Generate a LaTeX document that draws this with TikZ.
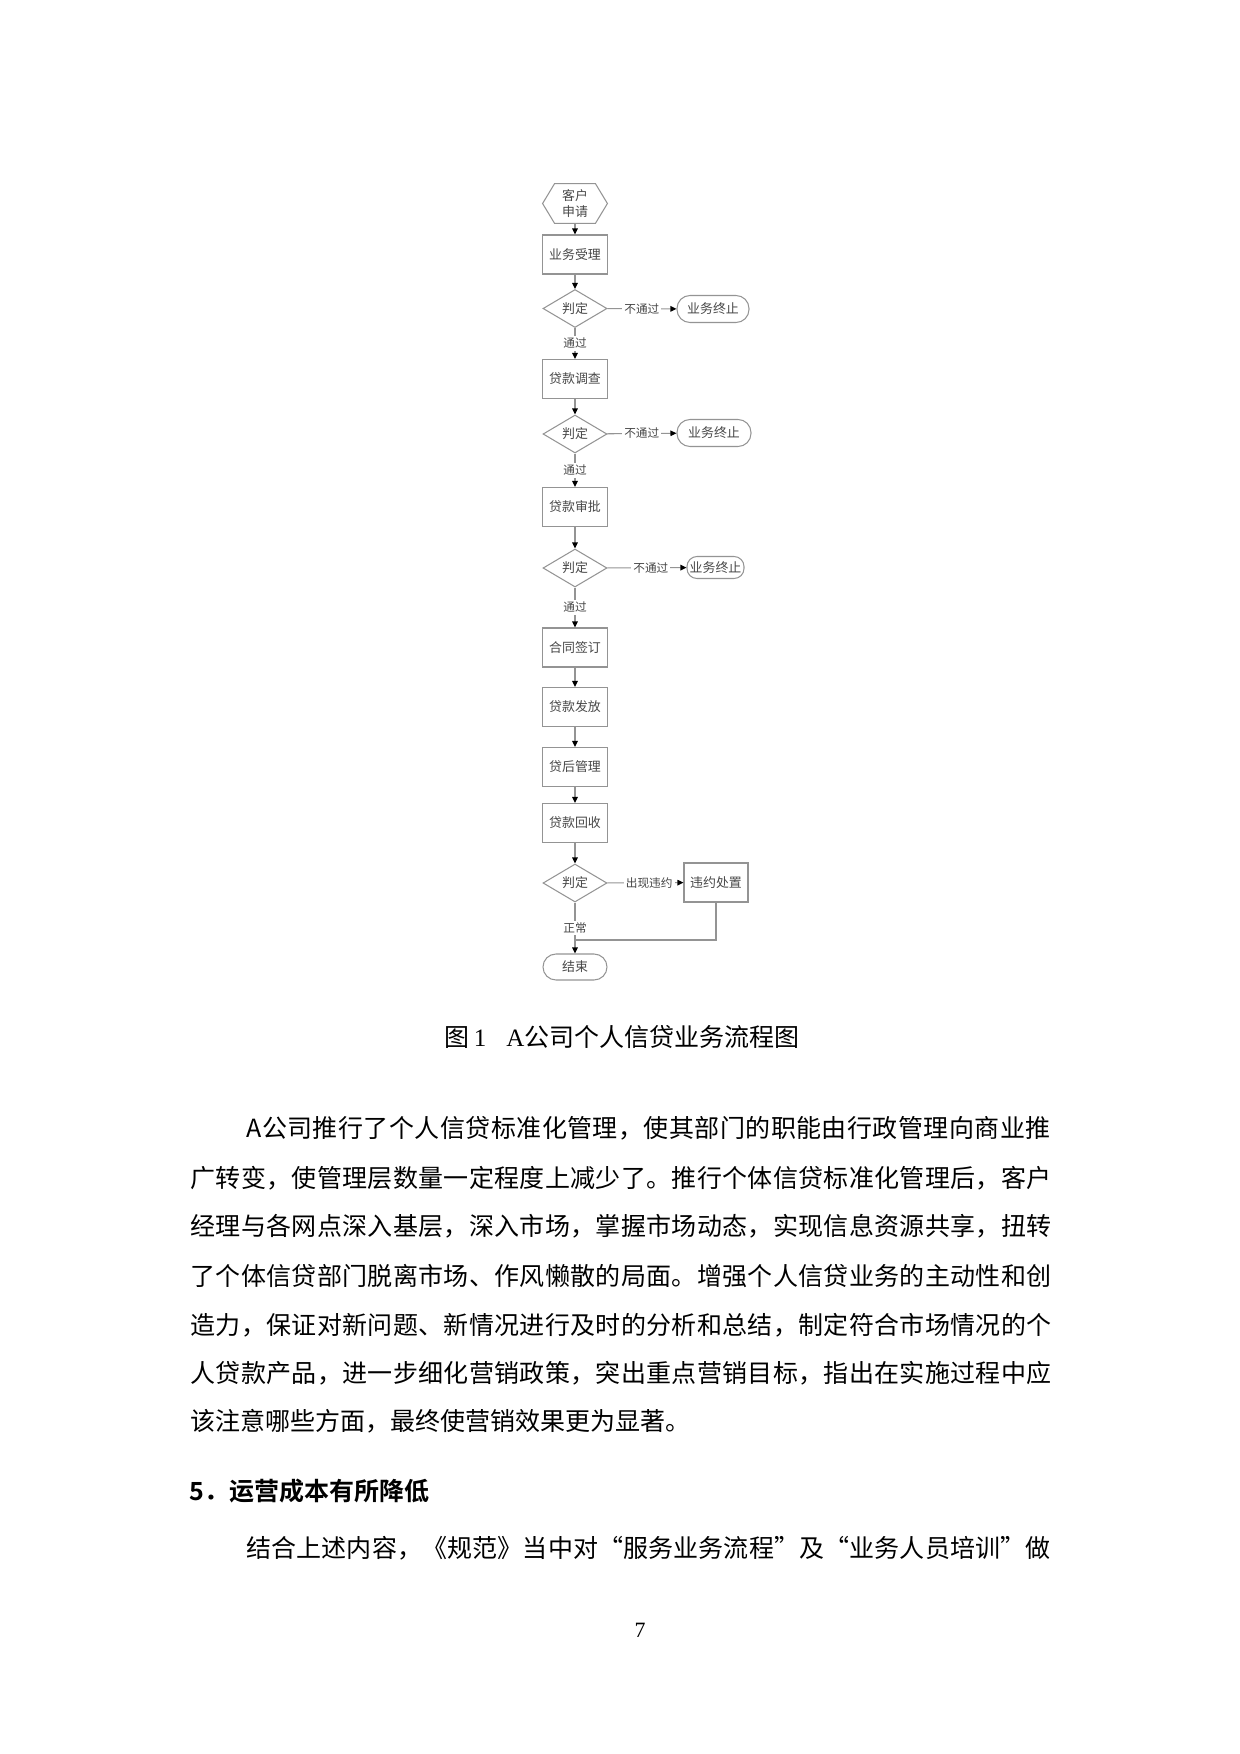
\documentclass[tikz,border=0pt]{standalone}
\usepackage{fontspec}
\setmainfont{Liberation Serif}
\newfontfamily\cjk{Noto Sans CJK SC}
\newfontfamily\cjkb{Noto Sans CJK SC Bold}
\usetikzlibrary{shapes.geometric,arrows.meta}
\def\px{0.48pt}
\def\jloop#1{\ifx\relax#1\else#1\hfil\expandafter\jloop\fi}
\def\jline#1#2{\hbox to #1{\jloop#2\relax\unskip}}
\tikzset{
  fc/.style={draw=black!42, line width=0.5pt, inner sep=0pt, text=black!72,
    font=\cjk\fontsize{6.2pt}{7pt}\selectfont},
  procbox/.style={fc, rectangle, minimum width=65*\px, minimum height=39*\px},
  decide/.style={fc, diamond, aspect=1.7, minimum width=64*\px, minimum height=38*\px},
  termin/.style={fc, rectangle, rounded corners=13*\px, minimum height=27*\px},
  hexa/.style={inner sep=0pt, text=black!72, font=\cjk\fontsize{6.2pt}{7.6pt}\selectfont,
    minimum width=64*\px, minimum height=39*\px, align=center},
  lbl/.style={fill=white, inner sep=1pt, text=black!72,
    font=\cjk\fontsize{5.6pt}{6.5pt}\selectfont},
  conn/.style={draw=black!42, line width=0.5pt},
  arr/.style={conn, -{Triangle[length=6*\px, width=5.5*\px, fill=black, color=black]}},
  body/.style={inner sep=0pt, anchor=west, font=\cjk\fontsize{12pt}{14pt}\selectfont,
    text height=0.88em, text depth=0.12em}
}
\begin{document}
\begin{tikzpicture}[x=\px, y=-\px]
\fill[white] (0,0) rectangle (1240,1754);
\useasboundingbox (0,0) rectangle (1240,1754);

% flowchart
\node[hexa] (s) at (575,203.5) {客户\\申请};
\draw[conn] (s.west) -- ([xshift=12*\px]s.north west) -- ([xshift=-12*\px]s.north east)
  -- (s.east) -- ([xshift=-12*\px]s.south east) -- ([xshift=12*\px]s.south west) -- cycle;

\node[procbox] (b1) at (575,254.5) {业务受理};
\node[decide] (d1) at (575,308.5) {判定};
\node[termin, minimum width=72*\px] (t1) at (713,309) {业务终止};
\node[procbox] (b2) at (575,379) {贷款调查};
\node[decide] (d2) at (575,434) {判定};
\node[termin, minimum width=74*\px] (t2) at (714,433) {业务终止};
\node[procbox] (b3) at (575,507) {贷款审批};
\node[decide] (d3) at (575,568) {判定};
\node[termin, minimum width=57*\px, minimum height=22*\px, rounded corners=10*\px] (t3) at (715.5,567.5) {业务终止};
\node[procbox] (b4) at (575,647.5) {合同签订};
\node[procbox] (b5) at (575,707) {贷款发放};
\node[procbox] (b6) at (575,767) {贷后管理};
\node[procbox] (b7) at (575,823) {贷款回收};
\node[decide] (d4) at (575,883) {判定};
\node[procbox, minimum width=64*\px] (b8) at (716,882.5) {违约处置};
\node[termin, minimum width=64*\px, minimum height=26*\px] (e) at (575,967) {结束};
\coordinate (j) at (575,940);

\draw[arr] (s) -- (b1);
\draw[arr] (b1) -- (d1);
\draw[arr] (d1) -- node[lbl]{不通过} (t1);
\draw[arr] (d1) -- node[lbl, pos=0.5]{通过} (b2);
\draw[arr] (b2) -- (d2);
\draw[arr] (d2) -- node[lbl]{不通过} (t2);
\draw[arr] (d2) -- node[lbl]{通过} (b3);
\draw[arr] (b3) -- (d3);
\draw[arr] (d3) -- node[lbl, pos=0.55]{不通过} (t3);
\draw[arr] (d3) -- node[lbl]{通过} (b4);
\draw[arr] (b4) -- (b5);
\draw[arr] (b5) -- (b6);
\draw[arr] (b6) -- (b7);
\draw[arr] (b7) -- (d4);
\draw[arr] (d4) -- node[lbl, pos=0.55]{出现违约} (b8);
\draw[arr] (d4) -- node[lbl, pos=0.5]{正常} (e);
\draw[conn] (b8.south) |- (j);

% caption
\node[inner sep=0pt, font=\fontsize{12pt}{14pt}\selectfont] (cap) at (622,1037)
  {{\cjk 图}\,1\hspace{0.8em}A{\cjk 公司个人信贷业务流程图}};

% body text
\node[body] (l1) at (246,1130) {\jline{386pt}{A公司推行了个人信贷标准化管理，使其部门的职能由行政管理向商业推}};
\node[body] (l2) at (190,1180) {\jline{413.3pt}{广转变，使管理层数量一定程度上减少了。推行个体信贷标准化管理后，客户}};
\node[body] (l3) at (190,1228) {\jline{413.3pt}{经理与各网点深入基层，深入市场，掌握市场动态，实现信息资源共享，扭转}};
\node[body] (l4) at (190,1278) {\jline{413.3pt}{了个体信贷部门脱离市场、作风懒散的局面。增强个人信贷业务的主动性和创}};
\node[body] (l5) at (190,1327) {\jline{413.3pt}{造力，保证对新问题、新情况进行及时的分析和总结，制定符合市场情况的个}};
\node[body] (l6) at (190,1375) {\jline{413.3pt}{人贷款产品，进一步细化营销政策，突出重点营销目标，指出在实施过程中应}};
\node[body] (l7) at (190,1423) {该注意哪些方面，最终使营销效果更为显著。};
\node[body, font=\cjkb\fontsize{12pt}{14pt}\selectfont] (h5) at (189,1493) {5．运营成本有所降低};
\node[body] (l8) at (246,1550) {\jline{386pt}{结合上述内容，《规范》当中对“服务业务流程”及“业务人员培训”做}};

% page number
\node[inner sep=0pt, font=\fontsize{10.5pt}{12pt}\selectfont] (pg) at (640,1630) {7};
\end{tikzpicture}
\end{document}
